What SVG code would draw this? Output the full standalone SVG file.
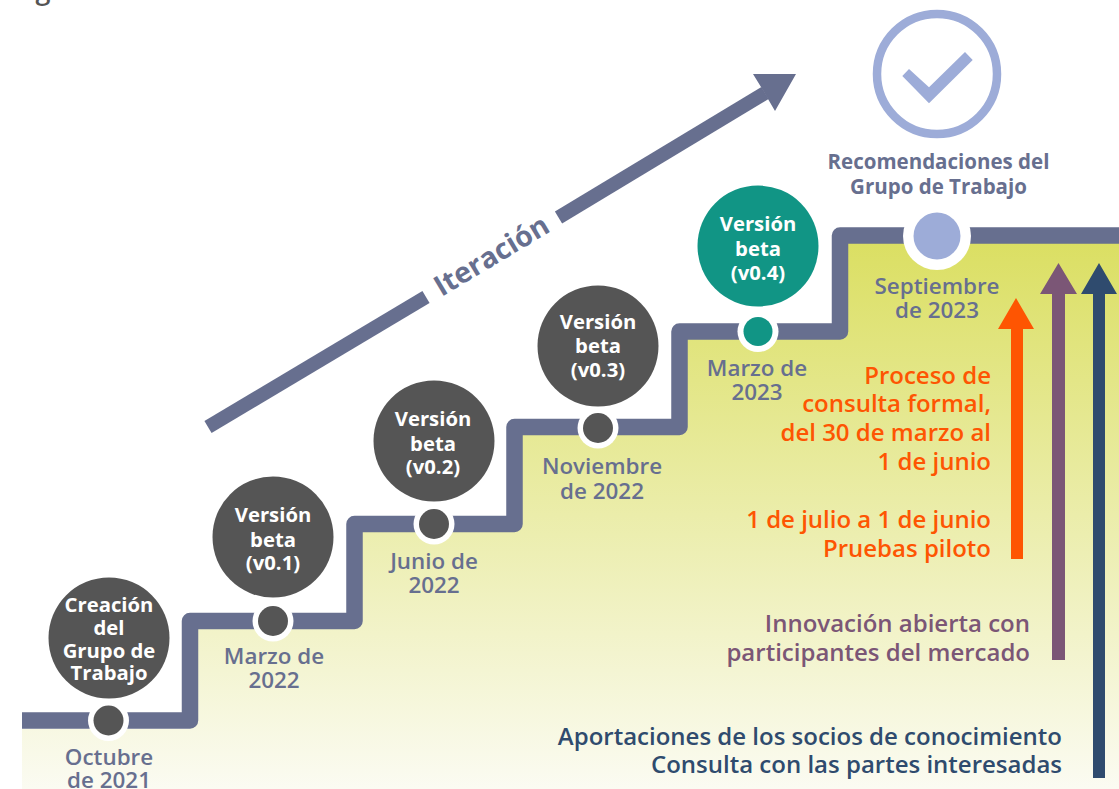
<svg xmlns="http://www.w3.org/2000/svg" width="1119" height="789" viewBox="0 0 1119 789">
<defs>
<linearGradient id="bg" gradientUnits="userSpaceOnUse" x1="0" y1="243" x2="0" y2="789">
<stop offset="0" stop-color="#dbdf63"/><stop offset="1" stop-color="#fbfbf2"/>
</linearGradient>
</defs>
<style>
text{font-family:"Open Sans","Noto Sans",sans-serif;font-weight:600;text-anchor:middle}
.d{font-size:22.400px;fill:#676f8f}
.w{font-size:20.300px;fill:#fff;font-weight:700}
.big{fill:#555555}
.ring{fill:#fff}
.o{font-size:24px;fill:#fe5502;text-anchor:end}
.p{font-size:24px;fill:#7b5676;text-anchor:end}
.b{font-size:24px;fill:#2f4b6e;text-anchor:end}
.it{font-size:28.500px;fill:#676f8f;font-weight:700}
.r{font-size:20.500px;fill:#676f8f;font-weight:700}
</style>
<rect width="1119" height="789" fill="#fff"/>
<text x="43" y="-1" font-size="27" fill="#555">g</text>
<path d="M22 729 H190 V621 H354 V524 H514 V427 H679 V331 H840 V235 H1119 V789 H22Z" fill="url(#bg)"/>
<g id="connectors">
<path d="M22 720.500H190V621H354.500V524H514.500V427H679.500V331.500H840V235.500H1119" fill="none" stroke="#676f8f" stroke-width="16.500" stroke-linejoin="round"/>
<path d="M208 427L426 297" fill="none" stroke="#676f8f" stroke-width="14"/>
<path d="M558.500 217.500L765 93" fill="none" stroke="#676f8f" stroke-width="14"/>
<path d="M796 74H753L761 87L768 99L775 111Z" fill="#676f8f"/>
<path d="M1016 298L1034 329H1023V559H1011V329H998Z" fill="#fe5502"/>
<path d="M1058.500 263L1077 294H1065V660H1052V294H1040Z" fill="#7b5676"/>
<path d="M1099 263L1117 294H1105V778H1093V294H1081Z" fill="#2f4b6e"/>
</g>
<text class="it" transform="translate(496.500 264) rotate(-31)">Iteración</text>
<g id="n1">
<circle class="big" cx="109" cy="638" r="60.500"/>
<text class="w"><tspan x="109" y="611.500">Creación</tspan><tspan x="109" y="635">del</tspan><tspan x="109" y="658">Grupo de</tspan><tspan x="109" y="680">Trabajo</tspan></text>
<circle class="ring" cx="108.500" cy="720.500" r="20.500"/><circle class="big" cx="108.500" cy="720.500" r="15"/>
<text class="d"><tspan x="109" y="765">Octubre</tspan><tspan x="109" y="788">de 2021</tspan></text>
</g>
<g id="n2">
<circle class="big" cx="273" cy="537" r="60.500"/>
<text class="w"><tspan x="273" y="522">Versión</tspan><tspan x="273" y="546.500">beta</tspan><tspan x="273" y="570">(v0.1)</tspan></text>
<circle class="ring" cx="273" cy="621" r="20.500"/><circle class="big" cx="273" cy="621" r="15"/>
<text class="d"><tspan x="274" y="664">Marzo de</tspan><tspan x="274" y="688">2022</tspan></text>
</g>
<g id="n3">
<circle class="big" cx="434" cy="441" r="60.500"/>
<text class="w"><tspan x="433" y="426">Versión</tspan><tspan x="433" y="450.500">beta</tspan><tspan x="433" y="474">(v0.2)</tspan></text>
<circle class="ring" cx="434" cy="524" r="20.500"/><circle class="big" cx="434" cy="524" r="15"/>
<text class="d"><tspan x="434" y="569">Junio de</tspan><tspan x="434" y="593">2022</tspan></text>
</g>
<g id="n4">
<circle class="big" cx="598" cy="346" r="60.500"/>
<text class="w"><tspan x="598" y="329">Versión</tspan><tspan x="598" y="353">beta</tspan><tspan x="598" y="377">(v0.3)</tspan></text>
<circle class="ring" cx="598" cy="428" r="20.500"/><circle class="big" cx="598" cy="428" r="15"/>
<text class="d"><tspan x="602" y="474">Noviembre</tspan><tspan x="602" y="499">de 2022</tspan></text>
</g>
<g id="n5">
<circle cx="758" cy="246" r="60.500" fill="#119585"/>
<text class="w"><tspan x="758" y="231">Versión</tspan><tspan x="758" y="256">beta</tspan><tspan x="758" y="280">(v0.4)</tspan></text>
<circle class="ring" cx="758" cy="331.500" r="20.500"/><circle cx="758" cy="331.500" r="14.500" fill="#119585"/>
<text class="d"><tspan x="757" y="376">Marzo de</tspan><tspan x="757" y="400">2023</tspan></text>
</g>
<g id="n6">
<circle cx="937" cy="74" r="60" fill="#fff" stroke="#9dacd8" stroke-width="8.500"/>
<path d="M902.300 76L909 69L929 87.300L965 52L972.700 60L929 103.300Z" fill="#9dacd8"/>
<text class="r"><tspan x="938.500" y="169">Recomendaciones del</tspan><tspan x="938.500" y="194">Grupo de Trabajo</tspan></text>
<circle class="ring" cx="937" cy="236" r="34"/><circle cx="937" cy="236" r="23.500" fill="#9dacd8"/>
<text class="d"><tspan x="937" y="294">Septiembre</tspan><tspan x="937" y="318">de 2023</tspan></text>
</g>
<g id="labels">
<text class="o"><tspan x="991" y="384">Proceso de</tspan><tspan x="991" y="412">consulta formal,</tspan><tspan x="991" y="441">del 30 de marzo al</tspan><tspan x="991" y="470">1 de junio</tspan><tspan x="991" y="528">1 de julio a 1 de junio</tspan><tspan x="991" y="557">Pruebas piloto</tspan></text>
<text class="p"><tspan x="1030" y="632">Innovación abierta con</tspan><tspan x="1030" y="661">participantes del mercado</tspan></text>
<text class="b"><tspan x="1062" y="745">Aportaciones de los socios de conocimiento</tspan><tspan x="1062" y="773">Consulta con las partes interesadas</tspan></text>
</g>
</svg>
